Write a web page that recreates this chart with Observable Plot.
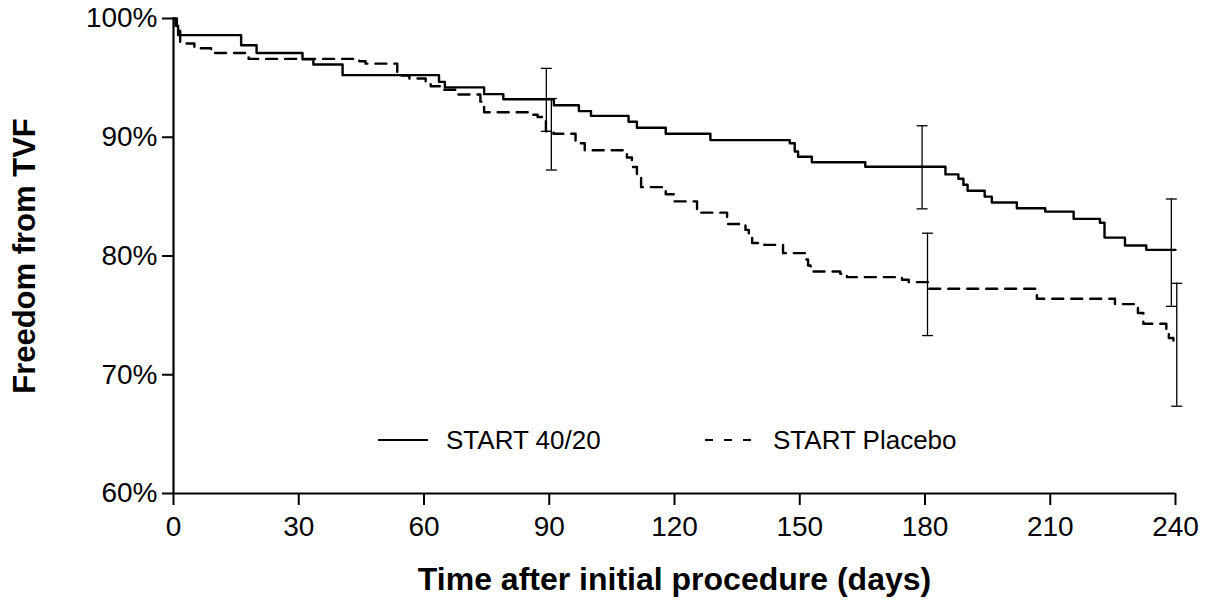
<!DOCTYPE html>
<html>
<head>
<meta charset="utf-8">
<script src="https://cdn.jsdelivr.net/npm/d3@7"></script>
<script src="https://cdn.jsdelivr.net/npm/@observablehq/plot@0.6"></script>
<style>
  body { margin: 0; background: #fff; }
  #wrap { position: relative; width: 1211px; height: 603px; font-family: "Liberation Sans", Arial, sans-serif; }
  .lg { position: absolute; display: flex; align-items: center; font-size: 26px; color: #000; }
  .lg svg { margin-right: 18px; }
</style>
</head>
<body>
<div id="wrap"></div>
<script>
// ---- Data ----
const seriesNames = ["START 40/20", "START Placebo"];

// Kaplan-Meier estimates, START 40/20 (solid)
const activeTime = [0, 0.5, 1.1, 16.2, 19.9, 30.9, 33.5, 40.5, 63.6, 65.0, 74.4, 79.0, 91.1, 97.1, 100.0, 109.0, 111.0, 117.9, 128.6, 147.6, 148.8, 149.6, 152.9, 165.7, 184.9, 188.0, 189.2, 190.2, 194.3, 196.0, 202.0, 208.8, 215.6, 221.9, 223.0, 227.9, 233.0, 240];
const activeSurv = [100, 99.4, 98.6, 97.75, 97.1, 96.57, 96.12, 95.23, 94.66, 94.2, 93.63, 93.2, 92.7, 92.2, 91.8, 91.3, 90.8, 90.3, 89.76, 89.5, 88.8, 88.36, 87.9, 87.52, 86.87, 86.5, 86.0, 85.5, 85.0, 84.5, 84.02, 83.74, 83.13, 82.8, 81.55, 80.88, 80.52, 80.52];

// Kaplan-Meier estimates, START Placebo (dashed)
const placeboTime = [0, 0.8, 1.6, 5.0, 9.0, 18.0, 44.5, 46.0, 53.6, 56.5, 60.4, 61.6, 64.5, 67.5, 73.5, 74.4, 85.9, 87.2, 89.2, 91.0, 96.3, 98.5, 108.6, 109.8, 111.0, 112.0, 117.9, 120.0, 125.4, 132.6, 137.0, 137.8, 138.6, 141.5, 146.0, 151.4, 152.0, 152.6, 159.7, 160.5, 161.3, 174.5, 176.1, 181.0, 206.8, 225.5, 231.0, 232.3, 237.8, 238.4, 239.5, 240];
const placeboSurv = [100, 99.3, 97.9, 97.5, 97.1, 96.6, 96.4, 96.2, 95.2, 94.95, 94.6, 94.3, 94.0, 93.6, 93.0, 92.1, 91.9, 91.7, 90.5, 90.3, 89.5, 88.9, 88.3, 87.5, 86.6, 85.8, 85.2, 84.6, 83.65, 82.7, 82.2, 81.6, 81.1, 80.94, 80.24, 79.7, 79.2, 78.7, 78.5, 78.35, 78.22, 78.0, 77.8, 77.24, 76.4, 75.95, 75.2, 74.3, 73.7, 73.1, 72.5, 72.5];

// 95% confidence intervals
const ciActiveTime = [89.3, 179.3, 239.0];
const ciActiveLow = [90.5, 83.97, 75.76];
const ciActiveHigh = [95.8, 90.97, 84.8];
const ciPlaceboTime = [90.5, 180.6, 240.3];
const ciPlaceboLow = [87.24, 73.3, 67.35];
const ciPlaceboHigh = [93.26, 81.92, 77.7];

const xTicks = [0, 30, 60, 90, 120, 150, 180, 210, 240];
const yTicks = [60, 70, 80, 90, 100];
const xLabel = "Time after initial procedure (days)";
const yLabel = "Freedom from TVF";

// ---- Build tables ----
const active = activeTime.map((t, i) => ({t, v: activeSurv[i]}));
const placebo = placeboTime.map((t, i) => ({t, v: placeboSurv[i]}));
const ciActive = ciActiveTime.map((t, i) => ({t, lo: ciActiveLow[i], hi: ciActiveHigh[i]}));
const ciPlacebo = ciPlaceboTime.map((t, i) => ({t, lo: ciPlaceboLow[i], hi: ciPlaceboHigh[i]}));
const ci = ciActive.concat(ciPlacebo);
const caps = ci.flatMap(d => [{t: d.t, y: d.lo}, {t: d.t, y: d.hi}]);

const capSymbol = {
  draw(ctx) { ctx.moveTo(-5.5, 0); ctx.lineTo(5.5, 0); }
};

const font = "'Liberation Sans', Arial, sans-serif";

const chart = Plot.plot({
  width: 1211,
  height: 603,
  marginLeft: 173,
  marginRight: 36,
  marginTop: 18,
  marginBottom: 110,
  style: { fontFamily: font, color: "#000", background: "#fff", overflow: "visible" },
  x: { domain: [0, 240] },
  y: { domain: [60, 100] },
  marks: [
    Plot.axisX({ ticks: xTicks, tickSize: 12, tickPadding: 11, fontSize: 28, label: null, strokeWidth: 2 }),
    Plot.axisY({ ticks: yTicks, tickSize: 11, tickPadding: 5, fontSize: 28, label: null, strokeWidth: 2, tickFormat: d => d + "%" }),
    Plot.ruleY([60], { stroke: "#000", strokeWidth: 2.2 }),
    Plot.ruleX([0], { stroke: "#000", strokeWidth: 2.2 }),
    Plot.line(active, { x: "t", y: "v", curve: "step-after", stroke: "#000", strokeWidth: 2.4 }),
    Plot.line(placebo, { x: "t", y: "v", curve: "step-after", stroke: "#000", strokeWidth: 2.4, strokeDasharray: "11,8" }),
    Plot.ruleX(ci, { x: "t", y1: "lo", y2: "hi", stroke: "#000", strokeWidth: 1.3 }),
    Plot.dot(caps, { x: "t", y: "y", symbol: capSymbol, stroke: "#000", strokeWidth: 1.3, fill: "none" }),
    Plot.text([xLabel], { frameAnchor: "bottom", text: d => d, dy: 96, fontSize: 32, fontWeight: "bold" }),
    Plot.text([yLabel], { frameAnchor: "left", text: d => d, dx: -148, rotate: -90, textAnchor: "middle", fontSize: 31, fontWeight: "bold" })
  ]
});

const wrap = document.getElementById("wrap");
wrap.appendChild(chart);

// Legend (overlaid inside the plot area)
function legendItem(name, dash, left) {
  const div = document.createElement("div");
  div.className = "lg";
  div.style.left = left + "px";
  div.style.top = "424px";
  div.style.height = "32px";
  div.innerHTML = `<svg width="50" height="6"><line x1="0" x2="50" y1="3" y2="3" stroke="#000" stroke-width="2" ${dash ? 'stroke-dasharray="8,11"' : ''}/></svg><span>${name}</span>`;
  wrap.appendChild(div);
}
legendItem(seriesNames[0], false, 378);
legendItem(seriesNames[1], true, 705);
</script>
</body>
</html>
